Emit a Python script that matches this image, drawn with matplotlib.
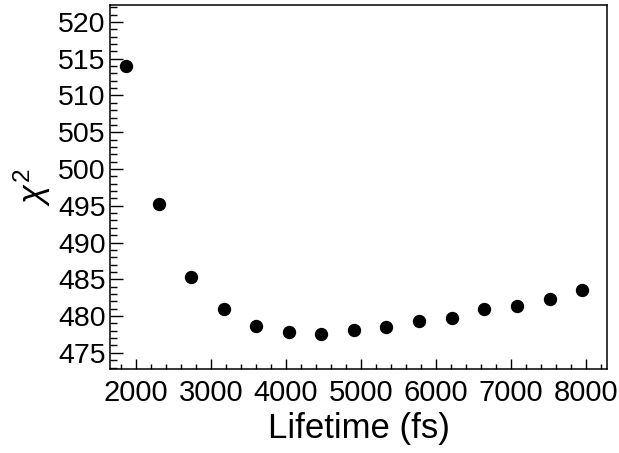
import matplotlib
matplotlib.use('Agg')
import matplotlib.pyplot as plt
from matplotlib.ticker import MultipleLocator

plt.rcParams['font.family'] = ['Liberation Sans', 'DejaVu Sans']
plt.rcParams['mathtext.fontset'] = 'custom'
plt.rcParams['mathtext.rm'] = 'Liberation Sans'
plt.rcParams['mathtext.it'] = 'Liberation Sans:italic'

# lifetime scan (fs) and chi2 values
lifetime = [1867, 2302, 2733, 3169, 3600, 4036, 4467, 4907, 5337, 5773, 6209, 6644, 7076, 7516, 7947]
chi2 = [514.0, 495.3, 485.3, 481.0, 478.7, 477.8, 477.5, 478.1, 478.5, 479.3, 479.7, 481.0, 481.3, 482.3, 483.6]

fig = plt.figure(figsize=(6.19, 4.53), dpi=100)
ax = fig.add_axes([110/619, 84/453, 497/619, 364/453])

ax.plot(lifetime, chi2, 'o', color='black', markersize=8.6, linestyle='none')

ax.set_xlim(1653, 8280)
ax.set_ylim(472.8, 522.3)

ax.xaxis.set_major_locator(MultipleLocator(1000))
ax.xaxis.set_minor_locator(MultipleLocator(200))
ax.yaxis.set_major_locator(MultipleLocator(5))
ax.yaxis.set_minor_locator(MultipleLocator(1))

ax.tick_params(axis='x', which='major', direction='in', length=7.5, width=1, labelsize=21, pad=7)
ax.tick_params(axis='x', which='minor', direction='in', length=3.8, width=1)
ax.tick_params(axis='y', which='major', direction='in', length=9.5, width=1, labelsize=20.5, pad=3)
ax.tick_params(axis='y', which='minor', direction='in', length=5, width=1)
ax.tick_params(top=False, right=False, which='both')

for s in ax.spines.values():
    s.set_linewidth(1.1)

ax.set_xlabel('Lifetime (fs)', fontsize=25, labelpad=4)
ax.set_ylabel(r'$\chi^{2}$', fontsize=25, labelpad=4)

fig.savefig('out.png', dpi=100)
